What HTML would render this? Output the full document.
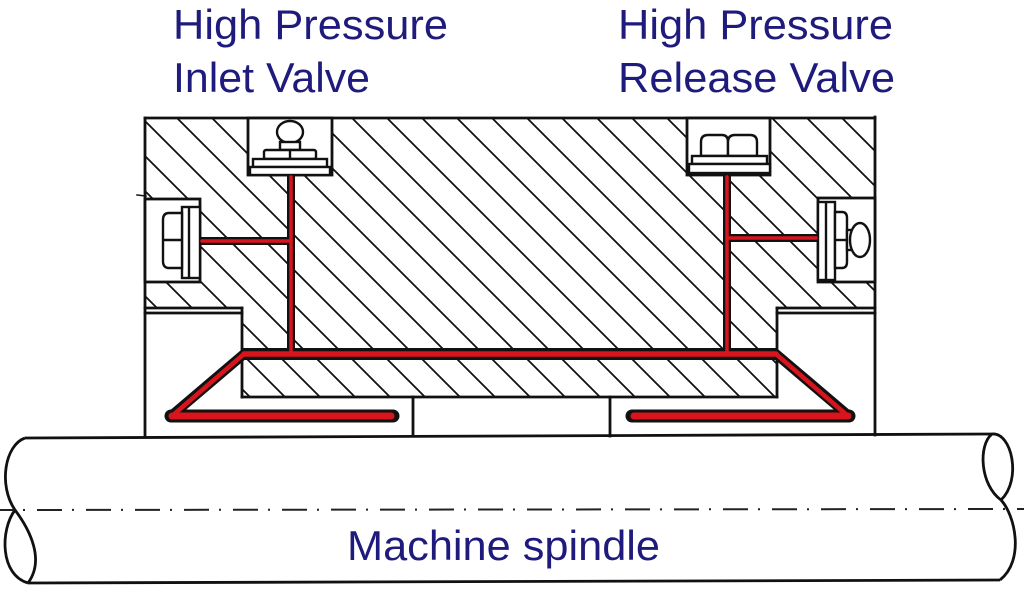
<!DOCTYPE html>
<html><head><meta charset="utf-8"><style>
html,body{margin:0;padding:0;background:#fff;}
svg{display:block;}
</style></head><body>
<svg width="1024" height="591" viewBox="0 0 1024 591" xmlns="http://www.w3.org/2000/svg">
<defs>
<pattern id="h" patternUnits="userSpaceOnUse" x="0" y="0" width="35" height="35">
<path d="M-12,-1 L25,36 M23,-1 L60,36 M-47,-1 L-10,36" stroke="#111" stroke-width="1.8" fill="none"/>
</pattern>
<pattern id="h2" patternUnits="userSpaceOnUse" x="4" y="0" width="35" height="35">
<path d="M-12,-1 L25,36 M23,-1 L60,36 M-47,-1 L-10,36" stroke="#111" stroke-width="1.8" fill="none"/>
</pattern>
</defs>
<rect width="1024" height="591" fill="#fff"/>

<!-- hatched main block -->
<path d="M145,118 L875,118 L875,308 L777,308 L777,350 L242,350 L242,308 L145,308 Z" fill="url(#h)"/>
<!-- lower strip -->
<rect x="242" y="358" width="535" height="39" fill="url(#h2)"/>

<g stroke="#111" stroke-width="2.8" fill="none" stroke-linecap="square">
<line x1="145" y1="118" x2="875" y2="118"/>
<line x1="145" y1="118" x2="145" y2="437"/>
<line x1="875" y1="117" x2="875" y2="435"/>
<line x1="145" y1="308" x2="242" y2="308"/>
<line x1="145" y1="313" x2="242" y2="313"/>
<line x1="777" y1="308" x2="875" y2="308"/>
<line x1="777" y1="313" x2="875" y2="313"/>
<line x1="242" y1="308" x2="242" y2="350"/>
<line x1="777" y1="308" x2="777" y2="350"/>
<line x1="242" y1="358" x2="242" y2="397"/>
<line x1="777" y1="358" x2="777" y2="397"/>
<line x1="242" y1="397" x2="777" y2="397"/>
<line x1="413" y1="397" x2="413" y2="436"/>
<line x1="610" y1="397" x2="610" y2="436"/>
<line x1="137" y1="195" x2="146" y2="196" stroke-width="1.5"/>
</g>

<!-- recesses -->
<g fill="#fff" stroke="#111" stroke-width="2.8">
<rect x="248" y="118" width="84" height="57"/>
<rect x="687" y="118" width="83" height="57"/>
<rect x="145" y="199" width="55" height="83"/>
<rect x="818" y="198" width="57" height="84"/>
</g>

<!-- inlet valve top -->
<g fill="#fff" stroke="#111" stroke-width="2.4">
<ellipse cx="290" cy="132" rx="13" ry="11"/>
<rect x="280" y="142" width="20" height="8"/>
<rect x="264" y="150" width="52" height="9" rx="2"/>
<line x1="290" y1="150" x2="290" y2="159"/>
<rect x="253" y="159" width="74" height="8"/>
<rect x="250" y="167" width="80" height="8"/>
</g>
<!-- release valve top -->
<g fill="#fff" stroke="#111" stroke-width="2.4">
<path d="M701,156 L701,142 Q701,135 708,135 L722,135 Q728,135 728,142 L728,156 Z"/>
<path d="M728,156 L728,142 Q728,135 735,135 L750,135 Q757,135 757,142 L757,156 Z"/>
<rect x="692" y="156" width="75" height="8"/>
<rect x="689" y="164" width="81" height="9"/>
</g>
<!-- left side valve -->
<g fill="#fff" stroke="#111" stroke-width="2.4">
<rect x="182" y="207" width="18" height="71"/>
<line x1="189" y1="207" x2="189" y2="278"/>
<path d="M182,213 L169,213 Q163,213 163,220 L163,261 Q163,268 169,268 L182,268 Z"/>
<line x1="163" y1="240" x2="182" y2="240"/>
</g>
<!-- right side valve -->
<g fill="#fff" stroke="#111" stroke-width="2.4">
<rect x="818" y="202" width="17" height="78"/>
<line x1="826" y1="202" x2="826" y2="280"/>
<path d="M835,212 L842,212 Q847,212 847,218 L847,262 Q847,268 842,268 L835,268 Z"/>
<line x1="835" y1="240" x2="847" y2="240"/>
<rect x="847" y="230" width="5" height="20"/>
<ellipse cx="860" cy="240" rx="10" ry="17"/>
</g>

<!-- channels black -->
<g stroke="#111" fill="none" stroke-linejoin="round" stroke-linecap="round">
<line x1="291" y1="175" x2="291" y2="354" stroke-width="8" stroke-linecap="butt"/>
<line x1="727" y1="175" x2="727" y2="354" stroke-width="8" stroke-linecap="butt"/>
<line x1="200" y1="241" x2="291" y2="241" stroke-width="8" stroke-linecap="butt"/>
<line x1="727" y1="238" x2="818" y2="238" stroke-width="8" stroke-linecap="butt"/>
<line x1="242" y1="354" x2="778" y2="354" stroke-width="12" stroke-linecap="butt"/>
<path d="M244,354 L171,416" stroke-width="10"/>
<path d="M171,416 L393,416" stroke-width="13"/>
<path d="M776,354 L849,416" stroke-width="10"/>
<path d="M849,416 L632,416" stroke-width="13"/>
</g>
<!-- channels red -->
<g stroke="#d8141c" fill="none" stroke-linejoin="round" stroke-linecap="round">
<line x1="291" y1="177" x2="291" y2="354" stroke-width="3.5"/>
<line x1="727" y1="177" x2="727" y2="354" stroke-width="3.5"/>
<line x1="202" y1="241" x2="291" y2="241" stroke-width="3.5"/>
<line x1="727" y1="238" x2="816" y2="238" stroke-width="3.5"/>
<line x1="244" y1="354" x2="776" y2="354" stroke-width="5.5"/>
<path d="M244,354 L172,416" stroke-width="4.5"/>
<path d="M172,416 L391,416" stroke-width="7"/>
<path d="M776,354 L848,416" stroke-width="4.5"/>
<path d="M848,416 L634,416" stroke-width="7"/>
</g>

<!-- spindle -->
<g stroke="#111" stroke-width="2.8" fill="none">
<line x1="25" y1="438" x2="992" y2="434"/>
<line x1="28" y1="583" x2="1000" y2="580"/>
<path d="M25,438 C5,445 -2,485 15,510 C30,530 45,560 28,583"/>
<path d="M15,510 C0,530 0,575 28,583"/>
<path d="M992,434 C978,445 980,485 1001,500"/>
<path d="M992,434 C1012,432 1022,480 1001,500"/>
<path d="M1001,500 C1015,515 1025,560 1000,580"/>
</g>
<line x1="0" y1="510" x2="1024" y2="509" stroke="#222" stroke-width="2" stroke-dasharray="25 10 2 12" stroke-dashoffset="12"/>

<!-- labels -->
<g font-family="Liberation Sans, Arial, sans-serif" font-size="42" fill="#1f1b7d">
<text x="173" y="39" textLength="275" lengthAdjust="spacingAndGlyphs">High Pressure</text>
<text x="173" y="92" textLength="197" lengthAdjust="spacingAndGlyphs">Inlet Valve</text>
<text x="618" y="39" textLength="275" lengthAdjust="spacingAndGlyphs">High Pressure</text>
<text x="618" y="92" textLength="277" lengthAdjust="spacingAndGlyphs">Release Valve</text>
<text x="347" y="560" textLength="313" lengthAdjust="spacingAndGlyphs">Machine spindle</text>
</g>
</svg>
</body></html>
